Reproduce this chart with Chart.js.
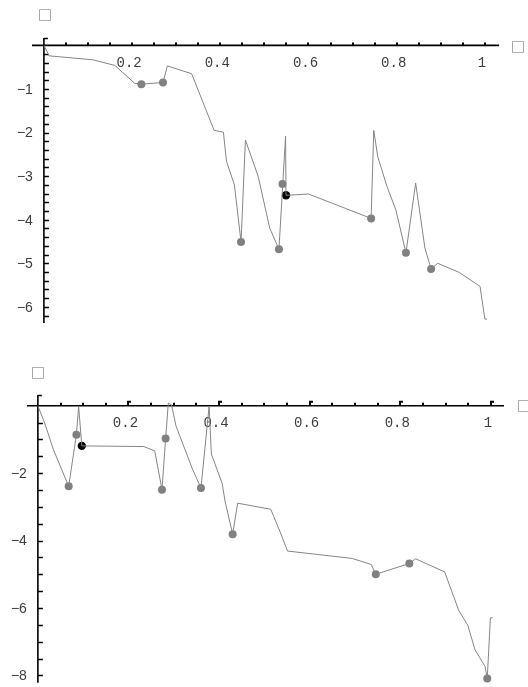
<!DOCTYPE html>
<html>
<head>
<style>
  html, body { margin: 0; background: #fff; }
  #wrap { position: relative; width: 528px; height: 687px; overflow: hidden; }
  canvas { position: absolute; left: 0; }
  #top { top: 0; }
  #bottom { top: 345px; }
</style>
</head>
<body>
<div id="wrap">
  <canvas id="top" width="528" height="345"></canvas>
  <canvas id="bottom" width="528" height="342"></canvas>
</div>
<script src="https://cdn.jsdelivr.net/npm/chart.js@4/dist/chart.umd.min.js"></script>
<script>
// ---- upper plot ----
const path1 = [
  [0, 0], [0.012, -0.24], [0.111, -0.33], [0.161, -0.46], [0.206, -0.87], [0.221, -0.89],
  [0.27, -0.85], [0.28, -0.47], [0.335, -0.65], [0.386, -1.95], [0.407, -1.99], [0.414, -2.66],
  [0.432, -3.2], [0.447, -4.51], [0.457, -2.17], [0.486, -3.01], [0.512, -4.19], [0.533, -4.68],
  [0.548, -2.08], [0.549, -3.44], [0.6, -3.41], [0.742, -3.97], [0.748, -1.95], [0.757, -2.55],
  [0.778, -3.24], [0.798, -3.77], [0.821, -4.76], [0.843, -3.16], [0.864, -4.65], [0.878, -5.13],
  [0.893, -5.0], [0.942, -5.21], [0.989, -5.53], [1.0, -6.28], [1.005, -6.28]
];
const dots1 = [[0.221, -0.89], [0.27, -0.85], [0.447, -4.51], [0.533, -4.68], [0.541, -3.18],
  [0.742, -3.97], [0.821, -4.76], [0.878, -5.13]];
const mark1 = [[0.549, -3.44]];
const xTicks1 = [0.2, 0.4, 0.6, 0.8, 1];
const xLabels1 = ['0.2', '0.4', '0.6', '0.8', '1'];
const yTicks1 = [-1, -2, -3, -4, -5, -6];
const yLabels1 = ['\u22121', '\u22122', '\u22123', '\u22124', '\u22125', '\u22126'];

// ---- lower plot ----
const path2 = [
  [0, 0], [0.015, -0.51], [0.034, -1.29], [0.068, -2.39], [0.085, -0.86], [0.09, -0.02],
  [0.097, -1.19], [0.234, -1.21], [0.258, -1.34], [0.274, -2.49], [0.282, -0.97], [0.288, 0.08],
  [0.295, 0.03], [0.305, -0.6], [0.341, -1.87], [0.36, -2.44], [0.378, -0.02], [0.383, -1.43],
  [0.407, -2.31], [0.413, -2.82], [0.43, -3.81], [0.441, -2.89], [0.514, -3.07], [0.535, -3.75],
  [0.551, -4.31], [0.694, -4.53], [0.736, -4.71], [0.746, -5.0], [0.82, -4.68], [0.834, -4.54],
  [0.898, -4.93], [0.929, -6.07], [0.949, -6.51], [0.965, -7.24], [0.987, -7.73], [0.992, -8.09],
  [0.999, -6.29], [1.004, -6.29]
];
const dots2 = [[0.068, -2.39], [0.085, -0.86], [0.274, -2.49], [0.282, -0.97], [0.36, -2.44],
  [0.43, -3.81], [0.746, -5.0], [0.82, -4.68], [0.992, -8.09]];
const mark2 = [[0.097, -1.19]];
const xTicks2 = [0.2, 0.4, 0.6, 0.8, 1];
const xLabels2 = ['0.2', '0.4', '0.6', '0.8', '1'];
const yTicks2 = [-2, -4, -6, -8];
const yLabels2 = ['\u22122', '\u22124', '\u22126', '\u22128'];

const boxChar = '\u25A1';

// axes crossing at the origin, drawn the Mathematica way
const crossAxes = {
  id: 'crossAxes',
  beforeDatasetsDraw(chart, args, o) {
    const ctx = chart.ctx;
    const x = chart.scales.x, y = chart.scales.y;
    const x0 = x.getPixelForValue(0), y0 = y.getPixelForValue(0);
    ctx.save();
    ctx.strokeStyle = '#000';
    ctx.lineWidth = 1.6;
    ctx.beginPath();
    ctx.moveTo(x.left, y0); ctx.lineTo(x.right, y0);
    ctx.moveTo(x0, y.top); ctx.lineTo(x0, y.bottom);
    ctx.stroke();

    // x tick marks
    ctx.lineWidth = 2;
    ctx.beginPath();
    for (let v = o.xStep; v <= x.max + 1e-9; v += o.xStep) {
      const px = Math.round(x.getPixelForValue(v));
      const major = o.xTicks.some(t => Math.abs(t - v) < 1e-6);
      ctx.moveTo(px, y0);
      ctx.lineTo(px, y0 - (major ? o.xMajorLen : 3));
      if (major && o.xMajorLen > 3) {
        ctx.moveTo(px, y0 - o.xMajorLen + 1);
        ctx.lineTo(px + 3, y0 - o.xMajorLen + 1);
      }
    }
    ctx.stroke();

    // y tick marks
    ctx.lineWidth = 1.5;
    ctx.beginPath();
    for (let k = Math.ceil(y.min / o.yStep); k * o.yStep <= y.max + 1e-9; k++) {
      if (k === 0) continue;
      const py = Math.round(y.getPixelForValue(k * o.yStep)) + 0.5;
      ctx.moveTo(x0, py);
      ctx.lineTo(x0 + 5, py);
    }
    // small flag at the top end of the vertical axis
    ctx.moveTo(x0, y.top + 0.5);
    ctx.lineTo(x0 + 4, y.top + 0.5);
    ctx.stroke();

    // labels
    ctx.fillStyle = '#3c3c3c';
    ctx.font = '14px "Liberation Mono"';
    ctx.textAlign = 'center';
    ctx.textBaseline = 'middle';
    o.xTicks.forEach((v, i) => {
      ctx.fillText(o.xLabels[i], x.getPixelForValue(v) - 3, y0 + 18);
    });
    ctx.font = '14px "Liberation Sans"';
    ctx.textAlign = 'right';
    o.yTicks.forEach((v, i) => {
      ctx.fillText(o.yLabels[i], x0 - 11, y.getPixelForValue(v) + 1);
    });

    // axis labels (missing glyphs in the original)
    ctx.fillStyle = '#9a9a9a';
    ctx.font = '15px "DejaVu Sans"';
    ctx.textAlign = 'center';
    ctx.fillText(boxChar, o.yBox[0], o.yBox[1]);
    ctx.fillText(boxChar, o.xBox[0], o.xBox[1]);
    ctx.restore();
  }
};

function makeChart(id, path, dots, mark, lim, pad, axes) {
  return new Chart(document.getElementById(id), {
    type: 'scatter',
    data: {
      datasets: [
        { data: path.map(p => ({ x: p[0], y: p[1] })), showLine: true, pointRadius: 0,
          borderColor: '#858585', borderWidth: 1, clip: false },
        { data: dots.map(p => ({ x: p[0], y: p[1] })), pointRadius: 4,
          backgroundColor: '#808080', borderWidth: 0, clip: false },
        { data: mark.map(p => ({ x: p[0], y: p[1] })), pointRadius: 4.2,
          backgroundColor: '#000', borderWidth: 0, clip: false }
      ]
    },
    options: {
      responsive: false,
      animation: false,
      layout: { padding: pad },
      scales: {
        x: { type: 'linear', min: lim[0], max: lim[1], display: false },
        y: { type: 'linear', min: lim[2], max: lim[3], display: false }
      },
      plugins: {
        legend: { display: false },
        tooltip: { enabled: false },
        crossAxes: axes
      }
    },
    plugins: [crossAxes]
  });
}

makeChart('top', path1, dots1, mark1, [-0.027, 1.032, -6.37, 0.17],
  { left: 32, right: 29, top: 38, bottom: 22 },
  { xTicks: xTicks1, xLabels: xLabels1, yTicks: yTicks1, yLabels: yLabels1,
    xStep: 0.05, yStep: 0.2, xMajorLen: 3, yBox: [45, 15], xBox: [518, 47] });

makeChart('bottom', path2, dots2, mark2, [-0.024, 1.029, -8.22, 0.32],
  { left: 27, right: 24, top: 50, bottom: 0 },
  { xTicks: xTicks2, xLabels: xLabels2, yTicks: yTicks2, yLabels: yLabels2,
    xStep: 0.05, yStep: 0.5, xMajorLen: 5, yBox: [38, 28], xBox: [524, 61] });
</script>
</body>
</html>
